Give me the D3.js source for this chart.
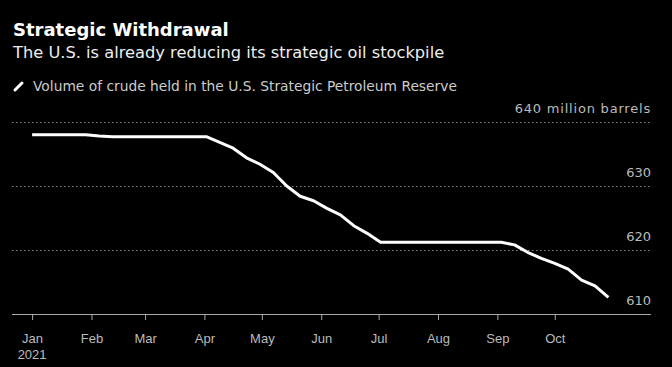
<!DOCTYPE html>
<html>
<head>
  <meta charset="utf-8">
  <style>
    body { margin: 0; background: #000; }
    svg { display: block; background: #000; font-family: 'DejaVu Sans', sans-serif; }
    .title { fill: #fff; font-weight: bold; font-size: 18px; }
    .subtitle { fill: #eee; font-size: 16.25px; }
    .legend { fill: #ccc; font-size: 13.8px; }
    .grid line { stroke: #888; stroke-width: 1px; stroke-dasharray: 1.5,2.5; }
    .ylab { fill: #bbb; font-size: 13px; text-anchor: end; }
    .unit { letter-spacing: 0.8px; }
    .xaxis path, .xaxis line { stroke: #aaa; }
    .xaxis text { fill: #bbb; font-size: 13px; }
    .series { fill: none; stroke: #fff; stroke-width: 3px; stroke-linejoin: round; }
  </style>
</head>
<body>
  <script src="https://d3js.org/d3.v7.min.js"></script>
  <script>
  // weekly SPR levels, million barrels
  var dates = [
    "2021-01-01","2021-01-08","2021-01-15","2021-01-22","2021-01-29",
    "2021-02-05","2021-02-12","2021-02-19","2021-02-26",
    "2021-03-05","2021-03-12","2021-03-19","2021-03-26",
    "2021-04-02","2021-04-09","2021-04-16","2021-04-23","2021-04-30",
    "2021-05-07","2021-05-14","2021-05-21","2021-05-28",
    "2021-06-04","2021-06-11","2021-06-18","2021-06-25",
    "2021-07-02","2021-07-09","2021-07-16","2021-07-23","2021-07-30",
    "2021-08-06","2021-08-13","2021-08-20","2021-08-27",
    "2021-09-03","2021-09-10","2021-09-17","2021-09-24",
    "2021-10-01","2021-10-08","2021-10-15","2021-10-22","2021-10-29"
  ]
  var values = [
    638.0, 638.0, 638.0, 638.0, 638.0,
    637.8, 637.7, 637.7, 637.7,
    637.7, 637.7, 637.7, 637.7,
    637.7, 636.8, 635.9, 634.4, 633.4,
    632.1, 630.0, 628.4, 627.7,
    626.5, 625.5, 623.8, 622.6,
    621.2, 621.2, 621.2, 621.2, 621.2,
    621.2, 621.2, 621.2, 621.2,
    621.2, 620.8, 619.6, 618.7,
    617.9, 617.0, 615.3, 614.4, 612.6
  ]
  var yTicks = [610, 620, 630, 640]
  var monthLabels = ["Jan","Feb","Mar","Apr","May","Jun","Jul","Aug","Sep","Oct"]

  var width = 672
  var height = 367
  var parse = d3.timeParse("%Y-%m-%d")
  var data = dates.map(function(d, i) { return {date: parse(d), value: values[i]} })

  var svg = d3.select("body").append("svg")
    .attr("width", width)
    .attr("height", height)

  // header
  svg.append("text").attr("class", "title").attr("x", 13).attr("y", 36).text("Strategic Withdrawal")
  svg.append("text").attr("class", "subtitle").attr("x", 13).attr("y", 58)
    .text("The U.S. is already reducing its strategic oil stockpile")
  svg.append("line")
    .attr("x1", 15).attr("y1", 90).attr("x2", 22).attr("y2", 83)
    .attr("stroke", "#fff").attr("stroke-width", 3).attr("stroke-linecap", "round")
  svg.append("text").attr("class", "legend").attr("x", 33).attr("y", 91)
    .text("Volume of crude held in the U.S. Strategic Petroleum Reserve")

  // scales
  var x = d3.scaleTime()
    .domain([new Date(2020, 11, 21, 12), new Date(2021, 10, 20, 6)])
    .range([12, 651])
  var y = d3.scaleLinear().domain([610, 640]).range([314, 122])

  // gridlines (skip baseline, axis line sits there)
  svg.append("g").attr("class", "grid")
    .selectAll("line")
    .data(yTicks.filter(function(t) { return t > 610 }))
    .enter().append("line")
    .attr("x1", 12).attr("x2", 651)
    .attr("y1", function(d) { return y(d) + 0.5 })
    .attr("y2", function(d) { return y(d) + 0.5 })

  svg.append("g").selectAll("text")
    .data(yTicks)
    .enter().append("text")
    .attr("class", function(d) { return d == 640 ? "ylab unit" : "ylab" })
    .attr("x", 651)
    .attr("y", function(d) { return y(d) - 9 })
    .text(function(d) { return d == 640 ? d + " million barrels" : d })

  // x axis
  var monthTicks = monthLabels.map(function(m, i) { return new Date(2021, i, 1) })
  var xAxis = d3.axisBottom(x)
    .tickValues(monthTicks)
    .tickSize(6)
    .tickSizeOuter(0)
    .tickFormat(function(d, i) { return monthLabels[i] })
  var gx = svg.append("g").attr("class", "xaxis")
    .attr("transform", "translate(0," + 314 + ")")
    .call(xAxis)
  gx.select(".domain").attr("d", "M12,0.5H651")
  gx.selectAll(".tick text").attr("dy", "1.55em")
  gx.append("text")
    .attr("x", x(monthTicks[0]))
    .attr("y", 45)
    .attr("text-anchor", "middle")
    .text("2021")

  // series
  var line = d3.line()
    .x(function(d) { return x(d.date) })
    .y(function(d) { return y(d.value) })
  svg.append("path")
    .datum(data)
    .attr("class", "series")
    .attr("d", line)
  </script>
</body>
</html>
